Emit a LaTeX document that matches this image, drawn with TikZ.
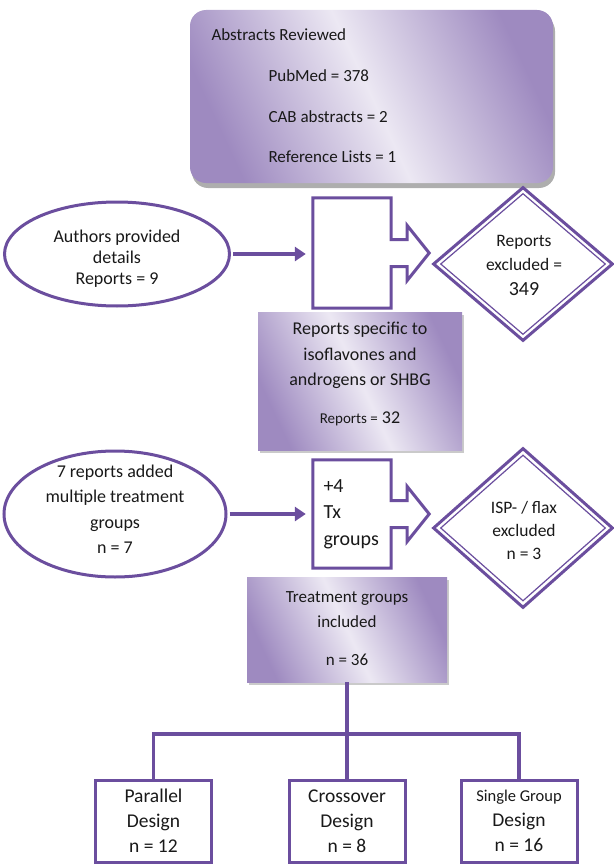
\documentclass[tikz,border=0pt]{standalone}
\usepackage{fontspec}
\setmainfont{Carlito}
\usetikzlibrary{arrows.meta,shapes.geometric,shadows,calc}
\definecolor{pline}{RGB}{107,78,158}
\definecolor{pdark}{RGB}{158,138,192}
\definecolor{plight}{RGB}{236,232,243}
\definecolor{txt}{RGB}{25,25,25}
\begin{document}
\begin{tikzpicture}[x=1pt,y=-1pt,
  every node/.style={text=txt},
  outl/.style={draw=pline, line width=3pt},
  conn/.style={draw=pline, line width=3.5pt},
  pshade/.style={left color=pdark, right color=pdark, middle color=plight, shading angle=115},
  topbox/.style={rectangle, rounded corners=16pt, inner sep=0, pshade,
    drop shadow={shadow xshift=2pt, shadow yshift=-5pt, opacity=0.45, fill=black!70}},
  gradbox/.style={rectangle, inner sep=0, pshade,
    drop shadow={shadow xshift=1.5pt, shadow yshift=-3pt, opacity=0.35, fill=black!60}},
  oval/.style={ellipse, outl, fill=white, inner sep=0},
  dia/.style={diamond, outl, fill=white, inner sep=0},
  diain/.style={diamond, draw=pline, line width=1.2pt, inner sep=0},
  blk/.style={rectangle, inner sep=0, minimum width=78},
  design/.style={rectangle, outl, fill=white, minimum width=116, minimum height=82, inner sep=0},
  arr/.style={conn, -{Triangle[length=11pt,width=14pt]}, shorten >=7pt, shorten <=2pt},
  blkpath/.style={outl, fill=white, line join=miter},
]
\useasboundingbox (0,0) rectangle (613,864);

% top box
\node (abs) [topbox, minimum width=363, minimum height=173] at (371.5,96.5) {};
\node (absA) [anchor=base west, font=\fontsize{17}{20}\selectfont] at (208,41) {Abstracts Reviewed};
\node (absB) [anchor=base west, font=\fontsize{17}{20}\selectfont] at (265,82) {PubMed = 378};
\node (absC) [anchor=base west, font=\fontsize{17}{20}\selectfont] at (265,122) {CAB abstracts = 2};
\node (absD) [anchor=base west, font=\fontsize{17}{20}\selectfont] at (265,162) {Reference Lists = 1};

% row 1
\node (e1) [oval, minimum width=225, minimum height=104] at (117,254) {};
\node (e1t) [align=center, font=\fontsize{18}{21}\selectfont] at (117,259) {Authors provided\\details\\Reports = 9};
\node (ba1) [blk, minimum height=110] at (352,253) {};
\draw[blkpath] (ba1.north west) -- (ba1.north east) -- ($(ba1.east)+(0,-13.5)$) -- ++(16,0) -- ++(0,-14)
  -- ($(ba1.east)+(38,0)$) -- ($(ba1.east)+(16,27.5)$) -- ++(0,-14) -- ($(ba1.east)+(0,13.5)$)
  -- (ba1.south east) -- (ba1.south west) -- cycle;
\draw[arr] (e1.east) -- (e1.east -| ba1.west);
\node (d1) [dia, minimum width=180, minimum height=154] at (523,264) {};
\node (d1in) [diain, minimum width=165, minimum height=141] at (d1) {};
\node (d1t) [align=center, font=\fontsize{17.5}{24.5}\selectfont] at (524,265) {Reports\\excluded =\\{\fontsize{20}{24.5}\selectfont 349}};

% box 2
\node (b2) [gradbox, minimum width=204, minimum height=138] at (360,381) {};
\node (b2t) [align=center, font=\fontsize{18}{25.5}\selectfont] at (360,374) {Reports specific to\\isoflavones and\\androgens or SHBG\\[12pt]{\fontsize{15}{18}\selectfont Reports =} 32};

% row 2
\node (e2) [oval, minimum width=222, minimum height=126] at (115,514) {};
\node (e2t) [align=center, font=\fontsize{18}{25.5}\selectfont] at (115,509) {7 reports added\\multiple treatment\\groups\\n = 7};
\node (ba2) [blk, minimum height=108] at (352,514) {};
\draw[blkpath] (ba2.north west) -- (ba2.north east) -- ($(ba2.east)+(0,-13.5)$) -- ++(16,0) -- ++(0,-14)
  -- ($(ba2.east)+(38,0)$) -- ($(ba2.east)+(16,27.5)$) -- ++(0,-14) -- ($(ba2.east)+(0,13.5)$)
  -- (ba2.south east) -- (ba2.south west) -- cycle;
\node (ba2t) [anchor=west, align=left, font=\fontsize{20}{26.5}\selectfont] at (320,514) {+4\\Tx\\groups};
\draw[arr] (e2.east) -- (e2.east -| ba2.west);
\node (d2) [dia, minimum width=180, minimum height=160] at (523,528) {};
\node (d2in) [diain, minimum width=165, minimum height=146] at (d2) {};
\node (d2t) [align=center, font=\fontsize{17.5}{23}\selectfont] at (524,530) {ISP- / flax\\excluded\\n = 3};

% box 3
\node (b3) [gradbox, minimum width=200, minimum height=105] at (347,629.5) {};
\node (b3t) [align=center, font=\fontsize{17}{25}\selectfont] at (347,629) {Treatment groups\\included\\[13pt]n = 36};

% bottom
\node (par) [design] at (153.5,821) {};
\node (part) [align=center, font=\fontsize{19.5}{25}\selectfont] at (par) {Parallel\\Design\\n = 12};
\node (cro) [design] at (347,821) {};
\node (crot) [align=center, font=\fontsize{19.5}{25}\selectfont] at (cro) {Crossover\\Design\\n = 8};
\node (sgl) [design] at (519,821) {};
\node (sglt) [align=center, font=\fontsize{19.5}{25}\selectfont] at (sgl) {{\fontsize{16.5}{25}\selectfont Single Group}\\Design\\n = 16};

\draw[conn] (b3.south) -- ++(0,52) coordinate (jn);
\draw[conn] (jn) -| (par.north);
\draw[conn] (jn) -| (sgl.north);
\draw[conn] (jn) -- (cro.north);
\end{tikzpicture}
\end{document}
